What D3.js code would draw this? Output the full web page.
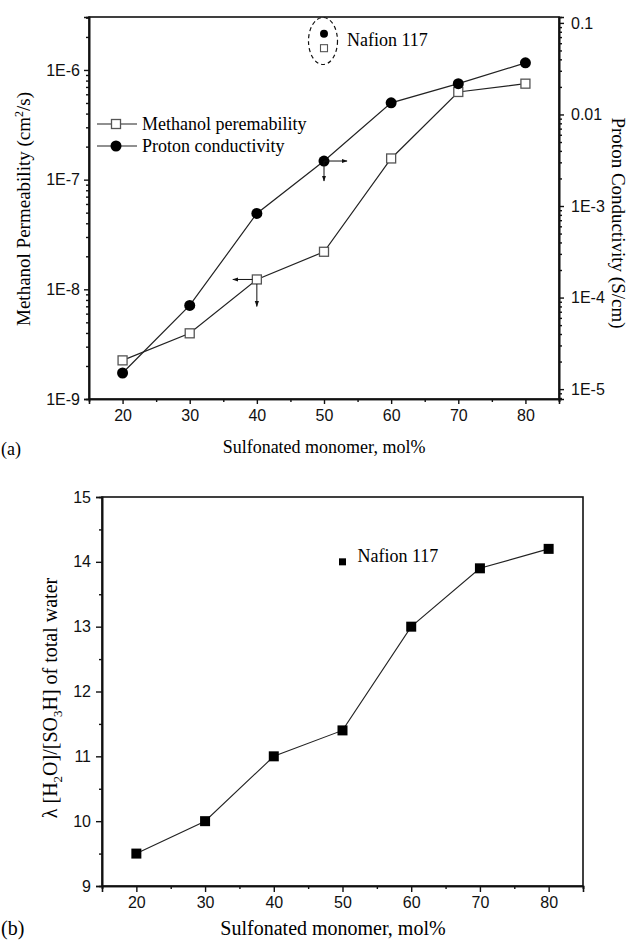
<!DOCTYPE html>
<html>
<head>
<meta charset="utf-8">
<script src="https://cdn.jsdelivr.net/npm/d3@7"></script>
<style>
  body { margin: 0; background: #fff; }
  svg { display: block; }
</style>
</head>
<body>
<svg id="chart"></svg>
<script>
// (a) permeability / conductivity vs sulfonated monomer, (b) water uptake lambda

const monomer = [20, 30, 40, 50, 60, 70, 80];
const permeability = [2.25e-9, 3.97e-9, 1.23e-8, 2.2e-8, 1.56e-7, 6.3e-7, 7.5e-7];
const conductivity = [1.5e-5, 8.2e-5, 8.3e-4, 3.1e-3, 0.0134, 0.0217, 0.0366];
const lambda = [9.5, 10, 11, 11.4, 13, 13.9, 14.2];

const nafionMonomer = 50;
const nafionPerm = 1.58e-6;
const nafionCond = 0.076;
const nafionLambda = 14.0;

const xTicks = [20, 30, 40, 50, 60, 70, 80];
const permTicks = [1e-9, 1e-8, 1e-7, 1e-6];
const permLabels = ["1E-9", "1E-8", "1E-7", "1E-6"];
const condTicks = [1e-5, 1e-4, 1e-3, 0.01, 0.1];
const condLabels = ["1E-5", "1E-4", "1E-3", "0.01", "0.1"];
const lambdaTicks = [9, 10, 11, 12, 13, 14, 15];

const width = 632, height = 941;
const serif = "'Liberation Serif', 'Times New Roman', serif";
const sans = "'Liberation Sans', Arial, sans-serif";

const svg = d3.select("#chart").attr("width", width).attr("height", height);

svg.append("defs").append("marker")
  .attr("id", "arrow")
  .attr("viewBox", "0 0 10 10")
  .attr("refX", 9).attr("refY", 5)
  .attr("markerWidth", 6).attr("markerHeight", 6)
  .attr("orient", "auto")
  .append("path")
  .attr("d", "M0,1.5 L10,5 L0,8.5 Z")
  .attr("fill", "#111");

function styleAxis(g) {
  g.select(".domain").attr("stroke", "#111").attr("stroke-width", 1.6);
  g.selectAll(".tick line").attr("stroke", "#111").attr("stroke-width", 1.4);
  g.selectAll(".tick text")
    .attr("fill", "#111")
    .style("font-family", sans)
    .style("font-size", "16px");
}

function logMinor(scale) {
  const [a, b] = scale.domain();
  const out = [];
  for (let e = Math.floor(Math.log10(a)); e <= Math.ceil(Math.log10(b)); e++) {
    for (let k = 2; k <= 9; k++) {
      const v = k * Math.pow(10, e);
      if (v >= a && v <= b) out.push(v);
    }
  }
  return out;
}

// ---------- panel (a) ----------
const A = { left: 89, right: 559, top: 17, bottom: 399 };

const xA = d3.scaleLinear([15, 85], [A.left, A.right]);
const yPerm = d3.scaleLog([1e-9, 3.04e-6], [A.bottom, A.top]);
const yCond = d3.scaleLog([7.8e-6, 0.116], [A.bottom, A.top]);

const gA = svg.append("g");

gA.append("rect")
  .attr("x", A.left).attr("y", A.top)
  .attr("width", A.right - A.left).attr("height", A.bottom - A.top)
  .attr("fill", "none").attr("stroke", "#111").attr("stroke-width", 1.6);

gA.append("g")
  .attr("transform", `translate(0,${A.bottom})`)
  .call(d3.axisBottom(xA).tickValues(xTicks).tickSize(5).tickPadding(6).tickFormat(d3.format("d")))
  .call(styleAxis);
gA.append("g")
  .attr("transform", `translate(0,${A.bottom})`)
  .call(d3.axisBottom(xA).tickValues([25, 35, 45, 55, 65, 75, 85]).tickSize(3).tickFormat(""))
  .call(styleAxis);

gA.append("g")
  .attr("transform", `translate(${A.left},0)`)
  .call(d3.axisLeft(yPerm).tickValues(permTicks).tickSize(5).tickPadding(4)
    .tickFormat((d, i) => permLabels[i]))
  .call(styleAxis);
gA.append("g")
  .attr("transform", `translate(${A.left},0)`)
  .call(d3.axisLeft(yPerm).tickValues(logMinor(yPerm)).tickSize(3).tickFormat(""))
  .call(styleAxis);

gA.append("g")
  .attr("transform", `translate(${A.right},0)`)
  .call(d3.axisRight(yCond).tickValues(condTicks).tickSize(5).tickPadding(7)
    .tickFormat((d, i) => condLabels[i]))
  .call(styleAxis);
gA.append("g")
  .attr("transform", `translate(${A.right},0)`)
  .call(d3.axisRight(yCond).tickValues(logMinor(yCond)).tickSize(3).tickFormat(""))
  .call(styleAxis);

const permLine = d3.line().x((d, i) => xA(monomer[i])).y(d => yPerm(d));
const condLine = d3.line().x((d, i) => xA(monomer[i])).y(d => yCond(d));

gA.append("path").attr("d", permLine(permeability))
  .attr("fill", "none").attr("stroke", "#222").attr("stroke-width", 1.2);
gA.append("path").attr("d", condLine(conductivity))
  .attr("fill", "none").attr("stroke", "#222").attr("stroke-width", 1.2);

gA.selectAll("rect.perm")
  .data(permeability)
  .join("rect")
  .attr("class", "perm")
  .attr("x", (d, i) => xA(monomer[i]) - 4.5)
  .attr("y", d => yPerm(d) - 4.5)
  .attr("width", 9).attr("height", 9)
  .attr("fill", "#fff").attr("stroke", "#555").attr("stroke-width", 1.3);

gA.selectAll("circle.cond")
  .data(conductivity)
  .join("circle")
  .attr("class", "cond")
  .attr("cx", (d, i) => xA(monomer[i]))
  .attr("cy", d => yCond(d))
  .attr("r", 5.5)
  .attr("fill", "#000");

// arrows pointing to each series' axis
const cx50 = xA(50), cy50 = yCond(conductivity[3]);
gA.append("line").attr("x1", cx50).attr("y1", cy50).attr("x2", cx50 + 23).attr("y2", cy50)
  .attr("stroke", "#111").attr("stroke-width", 1).attr("marker-end", "url(#arrow)");
gA.append("line").attr("x1", cx50).attr("y1", cy50).attr("x2", cx50).attr("y2", cy50 + 20)
  .attr("stroke", "#111").attr("stroke-width", 1).attr("marker-end", "url(#arrow)");
const sx40 = xA(40), sy40 = yPerm(permeability[2]);
gA.append("line").attr("x1", sx40 - 4.5).attr("y1", sy40).attr("x2", sx40 - 24).attr("y2", sy40)
  .attr("stroke", "#111").attr("stroke-width", 1).attr("marker-end", "url(#arrow)");
gA.append("line").attr("x1", sx40).attr("y1", sy40 + 4.5).attr("x2", sx40).attr("y2", sy40 + 27)
  .attr("stroke", "#111").attr("stroke-width", 1).attr("marker-end", "url(#arrow)");

// Nafion 117 reference
const nx = xA(nafionMonomer);
gA.append("circle").attr("cx", nx).attr("cy", yCond(nafionCond)).attr("r", 4).attr("fill", "#000");
gA.append("rect")
  .attr("x", nx - 3.5).attr("y", yPerm(nafionPerm) - 3.5)
  .attr("width", 7).attr("height", 7)
  .attr("fill", "#fff").attr("stroke", "#555").attr("stroke-width", 1.1);
gA.append("ellipse")
  .attr("cx", nx - 1).attr("cy", (yCond(nafionCond) + yPerm(nafionPerm)) / 2)
  .attr("rx", 14.5).attr("ry", 23.5)
  .attr("fill", "none").attr("stroke", "#111").attr("stroke-width", 1.2)
  .attr("stroke-dasharray", "4,3");
gA.append("text")
  .attr("x", nx + 23).attr("y", 46)
  .style("font-family", serif).style("font-size", "18px")
  .text("Nafion 117");

// legend
const legend = gA.append("g").attr("transform", "translate(97,124)");
[["Methanol peremability", "square"], ["Proton conductivity", "circle"]].forEach(([label, shape], i) => {
  const row = legend.append("g").attr("transform", `translate(0,${i * 22})`);
  row.append("line").attr("x1", 0).attr("x2", 40).attr("stroke", "#222").attr("stroke-width", 1.2);
  if (shape === "square") {
    row.append("rect").attr("x", 14.5).attr("y", -4.5).attr("width", 9).attr("height", 9)
      .attr("fill", "#fff").attr("stroke", "#555").attr("stroke-width", 1.3);
  } else {
    row.append("circle").attr("cx", 19).attr("r", 5.5).attr("fill", "#000");
  }
  row.append("text").attr("x", 45).attr("dy", "0.35em")
    .style("font-family", serif).style("font-size", "18px")
    .text(label);
});

// axis titles
gA.append("text")
  .attr("transform", "translate(30,209) rotate(-90)")
  .attr("text-anchor", "middle")
  .style("font-family", serif).style("font-size", "19px")
  .call(t => {
    t.append("tspan").text("Methanol Permeability (cm");
    t.append("tspan").attr("dy", -7).style("font-size", "12px").text("2");
    t.append("tspan").attr("dy", 7).text("/s)");
  });

gA.append("text")
  .attr("transform", "translate(612,223) rotate(90)")
  .attr("text-anchor", "middle")
  .style("font-family", serif).style("font-size", "19px")
  .text("Proton Conductivity (S/cm)");

gA.append("text")
  .attr("x", (A.left + A.right) / 2).attr("y", 453)
  .attr("text-anchor", "middle")
  .style("font-family", serif).style("font-size", "18px")
  .text("Sulfonated monomer, mol%");

gA.append("text")
  .attr("x", 1).attr("y", 455)
  .style("font-family", serif).style("font-size", "18px")
  .text("(a)");

// ---------- panel (b) ----------
const B = { left: 102, right: 583, top: 497, bottom: 886 };

const xB = d3.scaleLinear([15, 85], [B.left, B.right]);
const yB = d3.scaleLinear([9, 15], [B.bottom, B.top]);

const gB = svg.append("g");

gB.append("rect")
  .attr("x", B.left).attr("y", B.top)
  .attr("width", B.right - B.left).attr("height", B.bottom - B.top)
  .attr("fill", "none").attr("stroke", "#111").attr("stroke-width", 1.6);

gB.append("g")
  .attr("transform", `translate(0,${B.bottom})`)
  .call(d3.axisBottom(xB).tickValues(xTicks).tickSize(6).tickPadding(5).tickFormat(d3.format("d")))
  .call(styleAxis);
gB.append("g")
  .attr("transform", `translate(0,${B.bottom})`)
  .call(d3.axisBottom(xB).tickValues([15, 25, 35, 45, 55, 65, 75, 85]).tickSize(3).tickFormat(""))
  .call(styleAxis);

gB.append("g")
  .attr("transform", `translate(${B.left},0)`)
  .call(d3.axisLeft(yB).tickValues(lambdaTicks).tickSize(6).tickPadding(5).tickFormat(d3.format("d")))
  .call(styleAxis);
gB.append("g")
  .attr("transform", `translate(${B.left},0)`)
  .call(d3.axisLeft(yB).tickValues([9.5, 10.5, 11.5, 12.5, 13.5, 14.5]).tickSize(3).tickFormat(""))
  .call(styleAxis);

const lamLine = d3.line().x((d, i) => xB(monomer[i])).y(d => yB(d));
gB.append("path").attr("d", lamLine(lambda))
  .attr("fill", "none").attr("stroke", "#222").attr("stroke-width", 1.1);

gB.selectAll("rect.lam")
  .data(lambda)
  .join("rect")
  .attr("class", "lam")
  .attr("x", (d, i) => xB(monomer[i]) - 5)
  .attr("y", d => yB(d) - 5)
  .attr("width", 10).attr("height", 10)
  .attr("fill", "#000");

gB.append("rect")
  .attr("x", xB(nafionMonomer) - 3.5).attr("y", yB(nafionLambda) - 3.5)
  .attr("width", 7).attr("height", 7).attr("fill", "#000");
gB.append("text")
  .attr("x", xB(nafionMonomer) + 15).attr("y", 562)
  .style("font-family", serif).style("font-size", "18px")
  .text("Nafion 117");

gB.append("text")
  .attr("transform", "translate(57,698) rotate(-90)")
  .attr("text-anchor", "middle")
  .style("font-family", serif).style("font-size", "20px")
  .call(t => {
    t.append("tspan").text("λ [H");
    t.append("tspan").attr("dy", 5).style("font-size", "13px").text("2");
    t.append("tspan").attr("dy", -5).text("O]/[SO");
    t.append("tspan").attr("dy", 5).style("font-size", "13px").text("3");
    t.append("tspan").attr("dy", -5).text("H] of total water");
  });

gB.append("text")
  .attr("x", 333).attr("y", 935)
  .attr("text-anchor", "middle")
  .style("font-family", serif).style("font-size", "20px")
  .text("Sulfonated monomer, mol%");

gB.append("text")
  .attr("x", 1).attr("y", 935)
  .style("font-family", serif).style("font-size", "20px")
  .text("(b)");
</script>
</body>
</html>
